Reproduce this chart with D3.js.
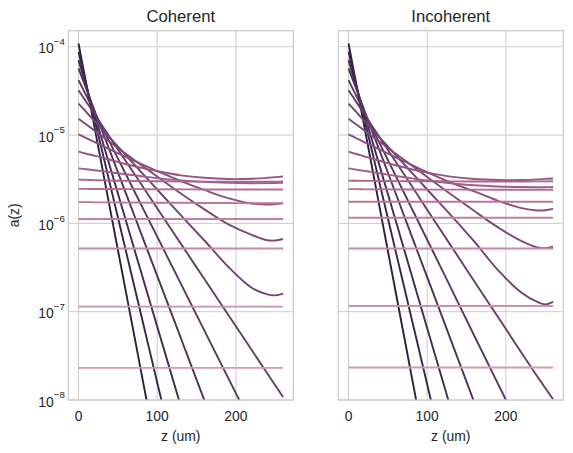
<!DOCTYPE html>
<html>
<head>
<meta charset="utf-8">
<style>
body { margin: 0; background: #fff; }
text { font-family: "Liberation Sans", Arial, sans-serif; fill: #262626; }
</style>
</head>
<body>
<script src="https://cdn.jsdelivr.net/npm/d3@7/dist/d3.min.js"></script>
<script>

// depth samples (um)
var zPoints = [0, 10, 20, 30, 45, 60, 80, 100, 130, 160, 190, 220, 240, 250, 260];

var xTicks = [0, 100, 200];
var yTicks = [1e-8, 1e-7, 1e-6, 1e-5, 1e-4];
var yTickExp = ["\u22128", "\u22127", "\u22126", "\u22125", "\u22124"];
var titles = ["Coherent", "Incoherent"];

// a(z) per curve, darkest first (null = below the plot)
var coherent = [
  [1.09e-4, 3.72e-5, 1.27e-5, 4.33e-6, 8.6e-7, 1.72e-7, 2.0e-8, 2.3e-9, null, null, null, null, null, null, null],
  [8.77e-5, 3.70e-5, 1.56e-5, 6.6e-6, 1.81e-6, 4.97e-7, 8.86e-8, 1.58e-8, 1.2e-9, null, null, null, null, null, null],
  [7.06e-5, 3.53e-5, 1.76e-5, 8.79e-6, 3.1e-6, 1.09e-6, 2.72e-7, 6.8e-8, 8.5e-9, 1.06e-9, null, null, null, null, null],
  [5.68e-5, 3.31e-5, 1.93e-5, 1.12e-5, 4.99e-6, 2.22e-6, 7.52e-7, 2.55e-7, 5.04e-8, 9.9e-9, 1.96e-9, null, null, null, null],
  [4.19e-5, 2.79e-5, 1.85e-5, 1.23e-5, 6.67e-6, 3.62e-6, 1.6e-6, 7.07e-7, 2.08e-7, 6.1e-8, 1.79e-8, 5.3e-9, null, null, null],
  [3.22e-5, 2.37e-5, 1.74e-5, 1.28e-5, 8.06e-6, 5.08e-6, 2.75e-6, 1.48e-6, 5.9e-7, 2.34e-7, 9.3e-8, 3.7e-8, 2.0e-8, 1.47e-8, 1.08e-8],
  [2.27e-5, 1.815e-5, 1.45e-5, 1.16e-5, 8.29e-6, 5.93e-6, 3.79e-6, 2.42e-6, 1.24e-6, 6.4e-7, 3.25e-7, 1.87e-7, 1.57e-7, 1.53e-7, 1.6e-7],
  [1.53e-5, 1.315e-5, 1.13e-5, 9.71e-6, 7.74e-6, 6.16e-6, 4.55e-6, 3.39e-6, 2.18e-6, 1.44e-6, 9.8e-7, 7.4e-7, 6.45e-7, 6.4e-7, 6.65e-7],
  [1.02e-5, 9.22e-6, 8.36e-6, 7.57e-6, 6.55e-6, 5.67e-6, 4.69e-6, 3.91e-6, 3.01e-6, 2.39e-6, 1.93e-6, 1.68e-6, 1.63e-6, 1.65e-6, 1.69e-6],
  [6.5e-6, 6.15e-6, 5.85e-6, 5.55e-6, 5.1e-6, 4.7e-6, 4.25e-6, 3.9e-6, 3.5e-6, 3.28e-6, 3.18e-6, 3.2e-6, 3.28e-6, 3.34e-6, 3.4e-6],
  [4.2e-6, 4.1e-6, 4.0e-6, 3.9e-6, 3.75e-6, 3.6e-6, 3.42e-6, 3.25e-6, 3.07e-6, 2.95e-6, 2.88e-6, 2.85e-6, 2.86e-6, 2.87e-6, 2.89e-6],
  [3.13e-6, 3.11e-6, 3.09e-6, 3.07e-6, 3.05e-6, 3.03e-6, 3.01e-6, 3.0e-6, 2.98e-6, 2.97e-6, 2.96e-6, 2.96e-6, 2.97e-6, 2.97e-6, 2.98e-6],
  [2.46e-6, 2.46e-6, 2.45e-6, 2.45e-6, 2.45e-6, 2.44e-6, 2.44e-6, 2.43e-6, 2.43e-6, 2.42e-6, 2.42e-6, 2.42e-6, 2.42e-6, 2.42e-6, 2.42e-6],
  [1.74e-6, 1.74e-6, 1.73e-6, 1.73e-6, 1.73e-6, 1.72e-6, 1.72e-6, 1.71e-6, 1.71e-6, 1.70e-6, 1.70e-6, 1.69e-6, 1.69e-6, 1.69e-6, 1.69e-6],
  [1.12e-6, 1.12e-6, 1.12e-6, 1.12e-6, 1.12e-6, 1.12e-6, 1.12e-6, 1.12e-6, 1.12e-6, 1.12e-6, 1.12e-6, 1.12e-6, 1.12e-6, 1.12e-6, 1.12e-6],
  [5.2e-7, 5.2e-7, 5.2e-7, 5.2e-7, 5.2e-7, 5.2e-7, 5.2e-7, 5.2e-7, 5.2e-7, 5.2e-7, 5.2e-7, 5.2e-7, 5.2e-7, 5.2e-7, 5.2e-7],
  [1.14e-7, 1.14e-7, 1.14e-7, 1.14e-7, 1.14e-7, 1.14e-7, 1.14e-7, 1.14e-7, 1.14e-7, 1.14e-7, 1.14e-7, 1.14e-7, 1.14e-7, 1.14e-7, 1.14e-7],
  [2.31e-8, 2.31e-8, 2.31e-8, 2.31e-8, 2.31e-8, 2.31e-8, 2.31e-8, 2.31e-8, 2.31e-8, 2.31e-8, 2.31e-8, 2.31e-8, 2.31e-8, 2.31e-8, 2.31e-8]
];

var incoherent = [
  [1.09e-4, 3.70e-5, 1.26e-5, 4.28e-6, 8.4e-7, 1.66e-7, 1.9e-8, 2.2e-9, null, null, null, null, null, null, null],
  [8.77e-5, 3.68e-5, 1.55e-5, 6.5e-6, 1.77e-6, 4.8e-7, 8.5e-8, 1.5e-8, 1.1e-9, null, null, null, null, null, null],
  [7.06e-5, 3.51e-5, 1.75e-5, 8.7e-6, 3.05e-6, 1.07e-6, 2.64e-7, 6.5e-8, 8.0e-9, 9.8e-10, null, null, null, null, null],
  [5.68e-5, 3.30e-5, 1.92e-5, 1.11e-5, 4.93e-6, 2.18e-6, 7.3e-7, 2.46e-7, 4.8e-8, 9.3e-9, 1.8e-9, null, null, null, null],
  [4.19e-5, 2.76e-5, 1.82e-5, 1.2e-5, 6.44e-6, 3.45e-6, 1.5e-6, 6.53e-7, 1.87e-7, 5.3e-8, 1.52e-8, 4.4e-9, null, null, null],
  [3.22e-5, 2.36e-5, 1.73e-5, 1.27e-5, 7.95e-6, 4.98e-6, 2.68e-6, 1.43e-6, 5.6e-7, 2.2e-7, 8.7e-8, 3.4e-8, 1.85e-8, 1.37e-8, 1.02e-8],
  [2.27e-5, 1.815e-5, 1.45e-5, 1.16e-5, 8.29e-6, 5.93e-6, 3.79e-6, 2.42e-6, 1.24e-6, 6.2e-7, 2.95e-7, 1.64e-7, 1.29e-7, 1.21e-7, 1.29e-7],
  [1.53e-5, 1.315e-5, 1.13e-5, 9.71e-6, 7.74e-6, 6.16e-6, 4.55e-6, 3.36e-6, 2.14e-6, 1.38e-6, 9.0e-7, 6.3e-7, 5.35e-7, 5.25e-7, 5.43e-7],
  [1.02e-5, 9.2e-6, 8.33e-6, 7.53e-6, 6.5e-6, 5.6e-6, 4.6e-6, 3.8e-6, 2.9e-6, 2.3e-6, 1.8e-6, 1.49e-6, 1.4e-6, 1.41e-6, 1.46e-6],
  [6.5e-6, 6.1e-6, 5.75e-6, 5.4e-6, 4.95e-6, 4.55e-6, 4.1e-6, 3.75e-6, 3.38e-6, 3.18e-6, 3.1e-6, 3.1e-6, 3.15e-6, 3.19e-6, 3.22e-6],
  [4.2e-6, 4.06e-6, 3.93e-6, 3.8e-6, 3.62e-6, 3.45e-6, 3.24e-6, 3.06e-6, 2.85e-6, 2.7e-6, 2.62e-6, 2.58e-6, 2.57e-6, 2.57e-6, 2.58e-6],
  [3.05e-6, 3.04e-6, 3.03e-6, 3.03e-6, 3.02e-6, 3.01e-6, 3.0e-6, 3.0e-6, 2.99e-6, 2.98e-6, 2.98e-6, 2.98e-6, 2.99e-6, 2.99e-6, 3.0e-6],
  [2.44e-6, 2.44e-6, 2.43e-6, 2.43e-6, 2.43e-6, 2.42e-6, 2.42e-6, 2.41e-6, 2.41e-6, 2.41e-6, 2.4e-6, 2.4e-6, 2.4e-6, 2.4e-6, 2.4e-6],
  [1.76e-6, 1.76e-6, 1.76e-6, 1.76e-6, 1.76e-6, 1.76e-6, 1.76e-6, 1.76e-6, 1.76e-6, 1.76e-6, 1.76e-6, 1.76e-6, 1.76e-6, 1.76e-6, 1.76e-6],
  [1.16e-6, 1.16e-6, 1.16e-6, 1.16e-6, 1.16e-6, 1.16e-6, 1.16e-6, 1.16e-6, 1.16e-6, 1.16e-6, 1.16e-6, 1.16e-6, 1.16e-6, 1.16e-6, 1.16e-6],
  [5.2e-7, 5.2e-7, 5.2e-7, 5.2e-7, 5.2e-7, 5.2e-7, 5.2e-7, 5.2e-7, 5.2e-7, 5.2e-7, 5.2e-7, 5.2e-7, 5.2e-7, 5.2e-7, 5.2e-7],
  [1.16e-7, 1.16e-7, 1.16e-7, 1.16e-7, 1.16e-7, 1.16e-7, 1.16e-7, 1.16e-7, 1.16e-7, 1.16e-7, 1.16e-7, 1.16e-7, 1.16e-7, 1.16e-7, 1.16e-7],
  [2.33e-8, 2.33e-8, 2.33e-8, 2.33e-8, 2.33e-8, 2.33e-8, 2.33e-8, 2.33e-8, 2.33e-8, 2.33e-8, 2.33e-8, 2.33e-8, 2.33e-8, 2.33e-8, 2.33e-8]
];

var width = 573,
    height = 453,
    plotTop = 30.7,
    plotBottom = 400,
    plotWidth = 225,
    panelLeft = [68.3, 338.3];

// seaborn style cubehelix (start 0, rot .4, hue .8)
function cubehelix(t) {
  var a = 0.8 * t * (1 - t) / 2,
      phi = 2 * Math.PI * (0.4 * t),
      c = Math.cos(phi), s = Math.sin(phi);
  var r = t + a * (-0.14861 * c + 1.78277 * s),
      g = t + a * (-0.29227 * c - 0.90649 * s),
      b = t + a * (1.97294 * c);
  function k(v) { return Math.round(255 * Math.max(0, Math.min(1, v))); }
  return d3.rgb(k(r), k(g), k(b)).formatHex();
}

var nLines = coherent.length;
var color = d3.scaleLinear().domain([0, nLines - 1]).range([0.15, 0.68]);

var svg = d3.select("body").append("svg")
    .attr("width", width)
    .attr("height", height);

var y = d3.scaleLog()
    .domain([1e-8, 1.52e-4])
    .range([plotBottom, plotTop]);

[coherent, incoherent].forEach(function(series, p) {
  var left = panelLeft[p];
  var x = d3.scaleLinear()
      .domain([-13, 273])
      .range([left, left + plotWidth]);

  var g = svg.append("g");

  g.append("clipPath")
      .attr("id", "clip" + p)
    .append("rect")
      .attr("x", left)
      .attr("y", plotTop)
      .attr("width", plotWidth)
      .attr("height", plotBottom - plotTop);

  // grid
  g.selectAll(".gx").data(xTicks).enter().append("line")
      .attr("x1", function(d) { return x(d); })
      .attr("x2", function(d) { return x(d); })
      .attr("y1", plotTop)
      .attr("y2", plotBottom)
      .attr("stroke", "#cccccc")
      .attr("stroke-width", 1);

  g.selectAll(".gy").data(yTicks).enter().append("line")
      .attr("x1", left)
      .attr("x2", left + plotWidth)
      .attr("y1", function(d) { return y(d); })
      .attr("y2", function(d) { return y(d); })
      .attr("stroke", "#cccccc")
      .attr("stroke-width", 1);

  var line = d3.line()
      .defined(function(d) { return d[1] != null; })
      .x(function(d) { return x(d[0]); })
      .y(function(d) { return y(d[1]); })
      .curve(d3.curveCatmullRom.alpha(0.5));

  g.append("g")
      .attr("clip-path", "url(#clip" + p + ")")
    .selectAll("path")
    .data(series.map(function(vals, i) { return { i: i, pts: zPoints.map(function(z, j) { return [z, vals[j]]; }) }; }))
    .enter().append("path")
      .attr("d", function(d) { return line(d.pts); })
      .attr("fill", "none")
      .attr("stroke", function(d) { return cubehelix(color(d.i)); })
      .attr("stroke-width", 1.9)
      .attr("stroke-linejoin", "round");

  // frame
  g.append("rect")
      .attr("x", left)
      .attr("y", plotTop)
      .attr("width", plotWidth)
      .attr("height", plotBottom - plotTop)
      .attr("fill", "none")
      .attr("stroke", "#cccccc")
      .attr("stroke-width", 1.25);

  // x tick labels
  g.selectAll(".xt").data(xTicks).enter().append("text")
      .attr("x", function(d) { return x(d); })
      .attr("y", 421)
      .attr("text-anchor", "middle")
      .style("font-size", "13.9px")
      .text(function(d) { return d; });

  g.append("text")
      .attr("x", left + plotWidth / 2)
      .attr("y", 441)
      .attr("text-anchor", "middle")
      .style("font-size", "13.9px")
      .text("z (um)");

  g.append("text")
      .attr("x", left + plotWidth / 2)
      .attr("y", 21.7)
      .attr("text-anchor", "middle")
      .style("font-size", "16.7px")
      .text(titles[p]);

  if (p === 0) {
    var yt = g.selectAll(".yt").data(yTicks).enter().append("text")
        .attr("x", left - 3.5)
        .attr("y", function(d) { return y(d) + 6.6; })
        .attr("text-anchor", "end")
        .style("font-size", "13.9px");
    yt.append("tspan").text("10");
    yt.append("tspan")
        .attr("dy", -8.3)
        .style("font-size", "9.7px")
        .text(function(d, i) { return yTickExp[i]; });

    g.append("text")
        .attr("transform", "translate(18.8," + ((plotTop + plotBottom) / 2) + ") rotate(-90)")
        .attr("text-anchor", "middle")
        .style("font-size", "13.9px")
        .text("a(z)");
  }
});

</script>
</body>
</html>
